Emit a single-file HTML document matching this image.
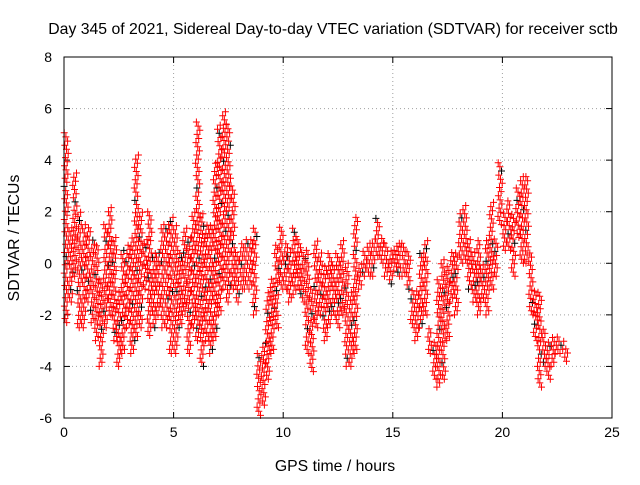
<!DOCTYPE html>
<html><head><meta charset="utf-8"><style>
body{margin:0;background:#fff;}
svg text{font-family:"Liberation Sans",sans-serif;font-size:14px;fill:#000;}
svg text.big{font-size:15.8px;}
</style></head><body>
<svg id="chart" width="640" height="480" viewBox="0 0 640 480" xmlns="http://www.w3.org/2000/svg">
<rect width="640" height="480" fill="#fff"/>
<text class="big" x="333" y="34" text-anchor="middle">Day 345 of 2021, Sidereal Day-to-day VTEC variation (SDTVAR) for receiver sctb</text>
<text class="big" x="335" y="471" text-anchor="middle">GPS time / hours</text>
<text class="big" transform="translate(19,238) rotate(-90)" text-anchor="middle">SDTVAR / TECUs</text>
<g id="grid"></g>
<g id="ticks"></g>
<g id="marks"></g>
<rect x="64" y="57" width="548" height="361" fill="none" stroke="#000" stroke-width="1"/>
</svg>
<script>
const xTicks=[0,5,10,15,20,25];
const yTicks=[-6,-4,-2,0,2,4,6,8];
const binStart=[0,0.2,0.4,0.6,0.8,1.0,1.2,1.4,1.6,1.8,2.0,2.2,2.4,2.6,2.8,3.0,3.2,3.4,3.6,3.8,4.0,4.2,4.4,4.6,4.8,5.0,5.2,5.4,5.6,5.8,6.0,6.2,6.4,6.6,6.8,7.0,7.2,7.4,7.6,7.8,8.0,8.2,8.4,8.6,8.8,9.0,9.2,9.4,9.6,9.8,10.0,10.2,10.4,10.6,10.8,11.0,11.2,11.4,11.6,11.8,12.0,12.2,12.4,12.6,12.8,13.0,13.2,13.4,13.6,13.8,14.0,14.2,14.4,14.6,14.8,15.0,15.2,15.4,15.6,15.8,16.0,16.2,16.4,16.6,16.8,17.0,17.2,17.4,17.6,17.8,18.0,18.2,18.4,18.6,18.8,19.0,19.2,19.4,19.6,19.8,20.0,20.2,20.4,20.6,20.8,21.0,21.2,21.4,21.6,21.8,22.0,22.2,22.4,22.6,22.8];
const binMin=[-2.3,-1.5,-0.5,-2.5,-2.5,-1.5,-2.3,-3.0,-4.0,-2.5,-2.0,-3.0,-4.0,-3.5,-2.5,-3.5,-3.0,-2.5,-1.0,-2.8,-2.5,-2.0,-2.5,-2.5,-3.5,-3.5,-2.5,-2.0,-3.5,-2.5,-3.0,-4.0,-3.0,-3.5,-3.0,-2.0,-1.0,-1.5,-1.0,-1.5,-1.0,-1.0,-1.0,-2.0,-5.9,-5.5,-4.5,-3.5,-2.5,-1.0,-1.0,-1.5,-1.2,-1.0,-1.5,-3.5,-4.2,-2.5,-2.0,-3.0,-2.5,-2.0,-2.5,-2.0,-4.0,-4.0,-3.5,-1.0,-0.5,-0.5,-0.5,0.3,0,-0.5,-0.8,-0.3,-0.5,-0.5,-1.0,-2.5,-3.0,-2.5,-2.0,-3.5,-4.5,-4.8,-4.5,-3.0,-1.5,-2.0,0.0,0.0,-1.0,-1.5,-2.0,-1.5,-2.0,-1.0,-0.5,1.5,0.5,0.5,-0.5,1.0,0,0,-2.0,-3.0,-4.8,-4.0,-4.5,-4.0,-3.5,-3.5,-3.8];
const binMax=[5.2,1.5,3.5,2.0,1.5,1.5,1.0,0.8,-0.5,1.5,2.2,1.0,-1.0,0.5,0.8,1.0,4.2,2.0,1.0,2.0,0.5,0.5,1.5,1.5,1.8,1.5,0.5,1.5,1.0,2.0,5.5,2.0,1.5,1.5,4.0,5.5,6.0,5.5,3.0,0.5,0.8,1.0,1.0,1.5,-3.5,-3.0,-1.0,-0.5,0.8,1.5,0.8,0.5,1.5,1.0,0.5,0.5,-1.0,1.0,0.5,0,0.5,0,0.5,1.0,0,-1.0,1.8,0,0.5,0.8,1.0,1.8,1.0,0.8,0.5,0.8,0.8,0.8,0.5,-1.0,-1.0,0.5,1.0,-2.5,-3.0,-0.5,0.2,0.0,0.5,0.5,2.0,2.3,1.0,0.5,1.0,0.0,1.0,2.5,1.0,4.0,2.0,2.5,2.0,3.0,3.5,3.5,0.5,-1.0,-1.0,-2.5,-3.0,-2.8,-2.8,-3.0,-3.2];
const binWidth=0.2;
const NS="http://www.w3.org/2000/svg";
const X0=64,X1=612,Y0=418,Y1=57;
function xs(v){return X0+(v-0)/(25-0)*(X1-X0);}
function ys(v){return Y0-(v-(-6))/(8-(-6))*(Y0-Y1);}
const grid=document.getElementById('grid'),ticks=document.getElementById('ticks'),marks=document.getElementById('marks');
function mk(tag,attrs,parent){const e=document.createElementNS(NS,tag);for(const k in attrs)e.setAttribute(k,attrs[k]);parent.appendChild(e);return e;}
xTicks.forEach(t=>{
  const x=xs(t);
  if(t>0&&t<25){const g=mk('line',{x1:x,x2:x,y1:Y1,y2:Y0,stroke:'#a0a0a0','stroke-dasharray':'1,3'},grid);
  
  }
  mk('line',{x1:x,x2:x,y1:Y0,y2:Y0-6,stroke:'#000'},ticks);
  mk('line',{x1:x,x2:x,y1:Y1,y2:Y1+6,stroke:'#000'},ticks);
  const l=mk('text',{x:x,y:Y0+19,'text-anchor':'middle'},ticks);l.textContent=t;
  
  
});
yTicks.forEach(t=>{
  const y=ys(t);
  if(t>-6&&t<8){const g=mk('line',{x1:X0,x2:X1,y1:y,y2:y,stroke:'#a0a0a0','stroke-dasharray':'1,3'},grid);
  
  }
  mk('line',{x1:X0,x2:X0+6,y1:y,y2:y,stroke:'#000'},ticks);
  mk('line',{x1:X1,x2:X1-6,y1:y,y2:y,stroke:'#000'},ticks);
  const l=mk('text',{x:X0-12,y:y+5,'text-anchor':'end'},ticks);l.textContent=t;
  
  
});
let d='',db='',k=0;
for(let i=0;i<binStart.length;i++){
  const lo=binMin[i],hi=binMax[i];
  for(let v=lo;v<=hi+1e-9;v+=0.16){
    k++;
    const f=((k*0.618034)%1);
    const x=xs(binStart[i]+f*binWidth),y=ys(v);
    const s='M'+(x-3.5).toFixed(1)+' '+y.toFixed(1)+'h7M'+x.toFixed(1)+' '+(y-3.5).toFixed(1)+'v7';
    if(k%17===0)db+=s;else d+=s;
  }
}
const pb=mk('path',{d:db,stroke:'#000',fill:'none','stroke-width':1},marks);


const p=mk('path',{d:d,stroke:'#ff0000',fill:'none','stroke-width':1},marks);


</script>
</body></html>
